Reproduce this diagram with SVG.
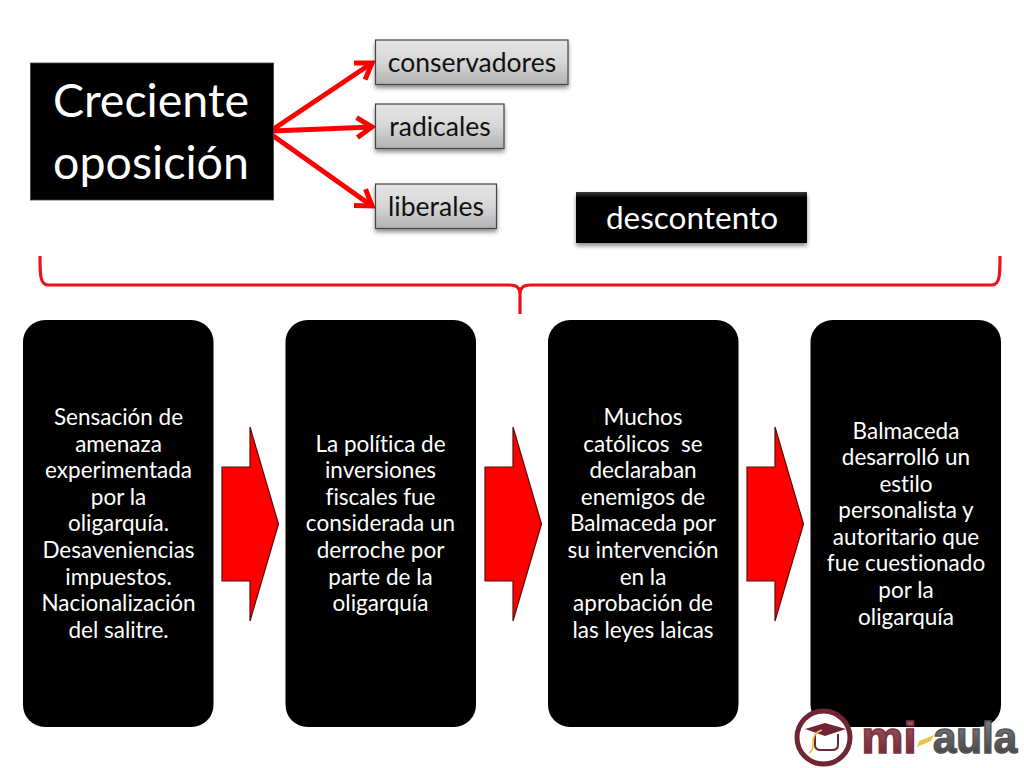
<svg xmlns="http://www.w3.org/2000/svg" width="1024" height="768" viewBox="0 0 1024 768">
<defs>
<linearGradient id="g" x1="0" y1="0" x2="0" y2="1"><stop offset="0" stop-color="#e6e6e6"/><stop offset="0.5" stop-color="#d6d6d6"/><stop offset="1" stop-color="#b2b2b2"/></linearGradient>
<linearGradient id="blk" x1="0" y1="0" x2="0" y2="1"><stop offset="0" stop-color="#3a3a3a"/><stop offset="0.12" stop-color="#000"/><stop offset="1" stop-color="#000"/></linearGradient>
<linearGradient id="mar" x1="0" y1="0" x2="0" y2="1"><stop offset="0" stop-color="#a5646e"/><stop offset="1" stop-color="#6a1f2d"/></linearGradient>
<linearGradient id="gry" x1="0" y1="0" x2="0" y2="1"><stop offset="0" stop-color="#8a8a8a"/><stop offset="1" stop-color="#3a3a3a"/></linearGradient>
<filter id="sh" x="-10%" y="-20%" width="120%" height="160%"><feDropShadow dx="0" dy="3" stdDeviation="2" flood-color="#000" flood-opacity="0.45"/></filter>
<marker id="ah" markerUnits="userSpaceOnUse" markerWidth="24" markerHeight="32" refX="20" refY="16" orient="auto"><path d="M5 6 L20 16 L5 26" fill="none" stroke="#f00" stroke-width="5"/></marker>
</defs>
<style>
text{font-family:Lato,"Liberation Sans",sans-serif;text-anchor:middle;font-variant-ligatures:none;white-space:pre}
.b{font-size:22.5px;fill:#fff;transform:translateY(.7px)}
.l{font-size:26.5px;fill:#111}
.card{fill:#000}
.tag{fill:url(#g);stroke:#444;stroke-width:1.2;filter:url(#sh)}
.ar{fill:#f00;stroke:#5a0c0c;stroke-width:1.2}
.cn{fill:none;stroke:#f00;stroke-width:5}
.logo{font-family:"Liberation Sans",sans-serif;font-weight:700;font-size:44px;stroke-width:1.6}
</style>
<rect width="1024" height="768" fill="#fff"/>
<g id="connectors">
<path class="cn" d="M272 130 L372 63" marker-end="url(#ah)"/>
<path class="cn" d="M272 131 L372 127" marker-end="url(#ah)"/>
<path class="cn" d="M272 135 L372 206" marker-end="url(#ah)"/>
<path d="M40 256 C40 274 40 285 48 285 L510 285 C517 285 520 288 520 294 L520 314 M520 294 C520 288 523 285 530 285 L992 285 C1000 285 1000 274 1000 256" fill="none" stroke="#e8141c" stroke-width="3.200"/>
<polygon class="ar" points="222,467 250,467 250,427 278.500,524 250,621 250,581 222,581"/>
<polygon class="ar" points="485,467 513,467 513,427 541.500,524 513,621 513,581 485,581"/>
<polygon class="ar" points="747,467 775,467 775,427 803.500,524 775,621 775,581 747,581"/>
</g>
<g id="creciente"><rect x="30.500" y="63" width="243" height="137" fill="#000" stroke="#444" stroke-width="0.8"/>
<text x="151" y="117" font-size="46.500" fill="#fff">Creciente</text><text x="151" y="179" font-size="46.500" fill="#fff">oposición</text></g>
<g id="conservadores"><rect class="tag" x="375.500" y="40" width="192.500" height="44.500"/><text class="l" x="472" y="72">conservadores</text></g>
<g id="radicales"><rect class="tag" x="375.500" y="104" width="128.500" height="44.500"/><text class="l" x="440" y="136">radicales</text></g>
<g id="liberales"><rect class="tag" x="375.500" y="184" width="121" height="44.500"/><text class="l" x="436" y="216">liberales</text></g>
<g id="descontento"><rect x="576" y="192" width="231" height="51" fill="url(#blk)" filter="url(#sh)"/><text x="692" y="228.500" font-size="31.500" fill="#fff">descontento</text></g>
<g id="card1"><rect class="card" x="23" y="320" width="190.500" height="407" rx="22"/>
<text class="b" x="118.500" y="424">Sensación de</text><text class="b" x="118.500" y="451">amenaza</text><text class="b" x="118.500" y="477">experimentada</text><text class="b" x="118.500" y="504">por la</text><text class="b" x="118.500" y="530">oligarquía.</text><text class="b" x="118.500" y="557">Desaveniencias</text><text class="b" x="118.500" y="584">impuestos.</text><text class="b" x="118.500" y="610">Nacionalización</text><text class="b" x="118.500" y="637">del salitre.</text></g>
<g id="card2"><rect class="card" x="285.500" y="320" width="190.500" height="407" rx="22"/>
<text class="b" x="380.500" y="451">La política de</text><text class="b" x="380.500" y="477">inversiones</text><text class="b" x="380.500" y="504">fiscales fue</text><text class="b" x="380.500" y="530">considerada un</text><text class="b" x="380.500" y="557">derroche por</text><text class="b" x="380.500" y="584">parte de la</text><text class="b" x="380.500" y="610">oligarquía</text></g>
<g id="card3"><rect class="card" x="548" y="320" width="190.500" height="407" rx="22"/>
<text class="b" x="643" y="424">Muchos</text><text class="b" x="643" y="451" xml:space="preserve">católicos  se</text><text class="b" x="643" y="477">declaraban</text><text class="b" x="643" y="504">enemigos de</text><text class="b" x="643" y="530">Balmaceda por</text><text class="b" x="643" y="557">su intervención</text><text class="b" x="643" y="584">en la</text><text class="b" x="643" y="610">aprobación de</text><text class="b" x="643" y="637">las leyes laicas</text></g>
<g id="card4"><rect class="card" x="810.500" y="320" width="190.500" height="407" rx="22"/>
<text class="b" x="906" y="438">Balmaceda</text><text class="b" x="906" y="464">desarrolló un</text><text class="b" x="906" y="491">estilo</text><text class="b" x="906" y="517">personalista y</text><text class="b" x="906" y="544">autoritario que</text><text class="b" x="906" y="570">fue cuestionado</text><text class="b" x="906" y="597">por la</text><text class="b" x="906" y="624">oligarquía</text></g>
<g id="logo">
<circle cx="823.500" cy="737.500" r="26.500" fill="#fff" stroke="#6f2533" stroke-width="5"/>
<path d="M805 729 L825 723 L846 729 L825 736 Z" fill="#6f2533"/>
<path d="M815 734 L815 745 Q815 750 821 750 L832 750 Q838 750 838 745 L838 734" fill="none" stroke="#6f2533" stroke-width="2"/>
<path d="M822 730 Q812 733 813 745 Q813 751 809 753" fill="none" stroke="#e8c34a" stroke-width="1.800"/>
<text class="logo" x="889" y="753" fill="url(#mar)" stroke="#7d3340" textLength="55" lengthAdjust="spacingAndGlyphs">mi</text>
<path d="M919 741 L934 735 L931 741 L917 747 Z" fill="#e8c34a"/>
<text class="logo" x="975" y="753" fill="url(#gry)" stroke="#555" textLength="84" lengthAdjust="spacingAndGlyphs">aula</text>
</g>
</svg>
